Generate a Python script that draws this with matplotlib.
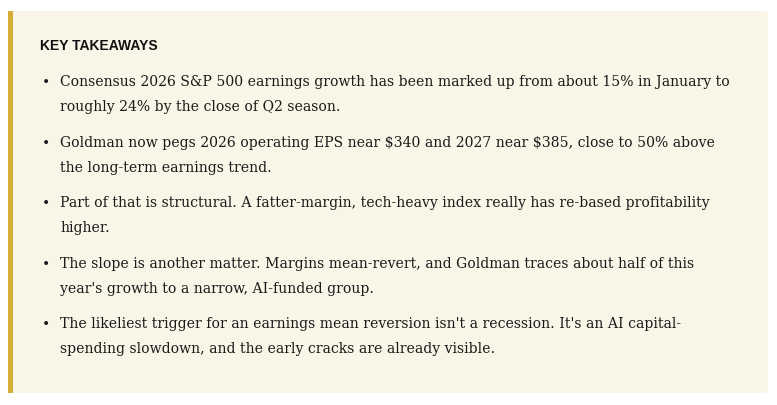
import matplotlib
matplotlib.use("Agg")
import matplotlib.pyplot as plt
from matplotlib.patches import FancyBboxPatch, Rectangle

W, H = 777, 406

TITLE = "KEY TAKEAWAYS"
BULLETS = [
    ["Consensus 2026 S&P 500 earnings growth has been marked up from about 15% in January to",
     "roughly 24% by the close of Q2 season."],
    ["Goldman now pegs 2026 operating EPS near $340 and 2027 near $385, close to 50% above",
     "the long-term earnings trend."],
    ["Part of that is structural. A fatter-margin, tech-heavy index really has re-based profitability",
     "higher."],
    ["The slope is another matter. Margins mean-revert, and Goldman traces about half of this",
     "year's growth to a narrow, AI-funded group."],
    ["The likeliest trigger for an earnings mean reversion isn't a recession. It's an AI capital-",
     "spending slowdown, and the early cracks are already visible."],
]
BULLET_TOPS = [82, 143, 203, 264, 324]
LINE_GAP = 25.5

fig = plt.figure(figsize=(W / 100, H / 100), dpi=100)
ax = fig.add_axes([0, 0, 1, 1])
ax.set_xlim(0, W)
ax.set_ylim(H, 0)
ax.axis("off")

ax.add_patch(FancyBboxPatch((8, 12), 760, 382, boxstyle="round,pad=0,rounding_size=4",
                            facecolor="#f9f5e7", edgecolor="none"))
ax.add_patch(Rectangle((8, 12), 5, 382, facecolor="#d4ae36", edgecolor="none"))

ax.text(40, 46, TITLE, fontsize=10, fontweight="bold", family="Liberation Sans",
        color="#111111", va="center", parse_math=False)

for y0, lines in zip(BULLET_TOPS, BULLETS):
    ax.text(46, y0, "\u2022", fontsize=10, color="#1a1a1a", va="center", ha="center",
            family="DejaVu Sans")
    for i, line in enumerate(lines):
        ax.text(60, y0 + i * LINE_GAP, line, fontsize=10.1, family="DejaVu Serif",
                color="#1a1a1a", va="center", parse_math=False)

fig.savefig("out.png", dpi=100, facecolor="white")
